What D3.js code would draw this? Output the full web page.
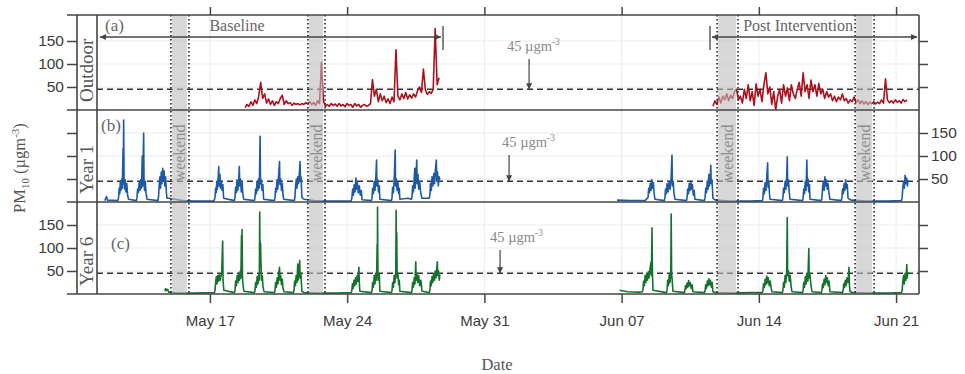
<!DOCTYPE html>
<html>
<head>
<meta charset="utf-8">
<script src="https://cdn.jsdelivr.net/npm/d3@7"></script>
<style>
  body { margin: 0; background: #fff; }
  .serif { font-family: "Liberation Serif", "Times New Roman", serif; }
  .sans { font-family: "Liberation Sans", Arial, sans-serif; }
</style>
</head>
<body>
<div id="chart"></div>
<script>
// Times are fractional days counted from 1 May (so 38 = 7 June).

// Outdoor PM10, sampled every 0.1 day
const sampleStep = 0.1;
const outdoorBaseStart = 18.79;
const outdoorBaseline = [5, 12, 8, 18, 10, 22, 14, 30, 60, 25, 35, 15, 24, 12, 20, 10, 18, 14, 25, 32,
  12, 20, 14, 16, 10, 15, 12, 14, 11, 14, 12, 16, 13, 18, 12, 16, 10, 20, 14, 103,
  20, 8, 12, 8, 14, 10, 13, 8, 14, 9, 12, 7, 14, 10, 12, 6, 14, 9, 12, 6,
  10, 12, 8, 10, 14, 66, 30, 45, 18, 35, 20, 30, 16, 24, 14, 28, 18, 131, 30, 22,
  35, 25, 38, 24, 33, 26, 35, 28, 42, 50, 38, 89, 44, 34, 40, 36, 45, 177, 55, 70];
const outdoorPostStart = 42.66;
const outdoorPost = [8, 20, 12, 28, 15, 30, 22, 35, 20, 32, 25, 40, 45, 22, 30, 15, 45, 25, 55, 20,
  40, 10, 57, 30, 45, 18, 55, 81, 35, 50, 12, 40, 0, 30, 45, 15, 55, 30, 48, 20,
  55, 35, 25, 45, 60, 30, 81, 40, 55, 25, 65, 40, 55, 30, 58, 35, 45, 25, 40, 28,
  35, 20, 30, 18, 28, 22, 35, 20, 25, 15, 22, 18, 28, 16, 22, 14, 20, 13, 18, 12,
  17, 14, 18, 13, 17, 14, 22, 15, 68, 22, 16, 20, 15, 22, 17, 20, 15, 23, 18, 22];

// Classroom PM10, year 1 : [day, value]
const year1 = [
  [11.64,3],[11.72,12],[11.78,4],[12.30,3],
  [12.34,10],[12.37,30],[12.40,18],[12.43,45],[12.46,25],[12.50,50],[12.53,30],[12.57,117],[12.58,40],[12.60,178],[12.62,45],[12.65,28],[12.68,48],[12.72,22],[12.76,40],[12.80,15],[12.85,6],[13.25,3],
  [13.28,10],[13.31,28],[13.35,20],[13.39,42],[13.43,25],[13.47,48],[13.51,30],[13.55,100],[13.57,35],[13.62,150],[13.64,40],[13.67,25],[13.70,45],[13.74,20],[13.79,6],[14.35,3],
  [14.38,12],[14.41,35],[14.45,55],[14.48,30],[14.52,65],[14.55,40],[14.59,73],[14.62,45],[14.66,68],[14.70,35],[14.74,55],[14.78,20],[14.81,8],
  [14.9,8],[15.2,6],[15.6,3],[16.2,2],[17.2,2],
  [17.26,10],[17.29,30],[17.32,20],[17.35,45],[17.38,28],[17.42,52],[17.45,77],[17.47,35],[17.51,60],[17.54,30],[17.58,45],[17.62,25],[17.66,38],[17.70,8],[18.25,3],
  [18.28,10],[18.31,32],[18.35,20],[18.38,48],[18.42,25],[18.46,40],[18.50,77],[18.52,35],[18.56,50],[18.60,22],[18.64,42],[18.68,18],[18.72,6],[19.27,3],
  [19.30,10],[19.33,28],[19.37,18],[19.40,45],[19.44,25],[19.48,50],[19.52,30],[19.56,143],[19.58,40],[19.62,48],[19.66,25],[19.70,38],[19.74,6],[20.29,3],
  [20.32,10],[20.35,30],[20.39,22],[20.42,48],[20.46,28],[20.50,55],[20.55,88],[20.57,38],[20.61,50],[20.65,25],[20.69,40],[20.73,15],[20.76,6],[21.31,3],
  [21.34,12],[21.37,35],[21.41,50],[21.44,30],[21.48,55],[21.52,40],[21.56,62],[21.60,88],[21.62,45],[21.65,55],[21.69,10],
  [21.8,6],[22.3,3],[23.0,2],[24.2,2],
  [24.24,8],[24.28,28],[24.32,15],[24.36,38],[24.40,22],[24.45,52],[24.48,28],[24.52,42],[24.57,20],[24.62,35],[24.67,15],[24.72,25],[24.76,5],[25.24,3],
  [25.27,10],[25.30,30],[25.34,18],[25.38,45],[25.42,25],[25.46,50],[25.50,91],[25.52,35],[25.56,48],[25.60,22],[25.64,35],[25.67,6],[26.26,3],
  [26.29,10],[26.32,32],[26.36,20],[26.40,48],[26.45,113],[26.47,35],[26.51,50],[26.55,25],[26.59,42],[26.63,18],[26.66,30],[26.69,6],[27.1,8],[27.28,6],
  [27.31,12],[27.34,35],[27.38,22],[27.42,50],[27.45,73],[27.47,30],[27.51,55],[27.55,91],[27.57,40],[27.61,60],[27.65,28],[27.70,45],[27.75,20],[27.82,8],[28.18,8],
  [28.22,15],[28.25,40],[28.29,25],[28.33,55],[28.37,35],[28.42,62],[28.46,40],[28.50,70],[28.55,91],[28.57,45],[28.61,65],[28.65,35],[28.69,55],[28.73,48],
  [28.74,null],
  [37.77,4],[38.5,3],[39.2,3],
  [39.35,10],[39.38,30],[39.42,20],[39.46,40],[39.50,25],[39.54,48],[39.58,30],[39.62,42],[39.66,18],[39.70,6],[40.18,3],
  [40.21,10],[40.24,28],[40.28,18],[40.32,40],[40.37,22],[40.42,45],[40.47,28],[40.52,48],[40.57,102],[40.59,35],[40.63,45],[40.67,20],[40.72,6],[41.31,3],
  [41.34,10],[41.37,28],[41.41,18],[41.45,40],[41.49,25],[41.53,45],[41.57,28],[41.61,38],[41.66,15],[41.70,25],[41.74,6],[42.23,3],
  [42.26,10],[42.29,30],[42.33,20],[42.37,45],[42.41,28],[42.45,60],[42.48,35],[42.52,50],[42.55,80],[42.57,40],[42.61,48],[42.66,8],
  [42.8,4],[43.5,2],[44.6,2],[45.18,3],
  [45.21,10],[45.24,30],[45.28,18],[45.32,42],[45.36,25],[45.40,50],[45.45,85],[45.47,32],[45.51,45],[45.54,20],[45.57,6],[46.2,3],
  [46.23,10],[46.26,30],[46.30,20],[46.34,45],[46.38,28],[46.42,55],[46.45,98],[46.47,35],[46.51,48],[46.55,22],[46.59,6],[47.23,3],
  [47.26,10],[47.29,28],[47.33,18],[47.37,45],[47.41,25],[47.45,91],[47.47,35],[47.51,50],[47.55,22],[47.58,38],[47.61,6],[48.19,3],
  [48.22,10],[48.25,30],[48.29,45],[48.33,25],[48.37,55],[48.41,35],[48.45,48],[48.49,28],[48.53,40],[48.58,18],[48.63,6],[49.21,3],
  [49.24,10],[49.27,28],[49.31,18],[49.35,40],[49.39,25],[49.43,48],[49.47,30],[49.51,38],[49.55,8],
  [49.7,4],[50.5,2],[51.6,2],[52.28,3],
  [52.31,10],[52.34,28],[52.38,45],[52.42,30],[52.46,58],[52.50,40],[52.54,52],[52.58,35],[52.61,48]
];

// Classroom PM10, year 6 : [day, value]
const year6 = [
  [14.70,6],[14.74,12],[14.78,8],[14.84,10],[14.9,4],[15.3,2],[16.2,2],[17.23,3],
  [17.26,8],[17.29,25],[17.33,38],[17.36,22],[17.40,40],[17.44,28],[17.48,42],[17.52,30],[17.56,38],[17.60,45],[17.65,115],[17.67,30],[17.71,8],[18.25,3],
  [18.28,8],[18.31,28],[18.35,18],[18.39,40],[18.43,25],[18.47,45],[18.51,30],[18.55,50],[18.58,35],[18.61,127],[18.62,40],[18.64,140],[18.66,35],[18.69,20],[18.73,6],[19.27,3],
  [19.30,8],[19.33,25],[19.37,15],[19.41,38],[19.45,22],[19.49,42],[19.52,30],[19.54,178],[19.56,60],[19.58,112],[19.60,76],[19.63,30],[19.67,40],[19.71,15],[19.76,5],[20.29,3],
  [20.32,8],[20.35,25],[20.39,15],[20.43,35],[20.47,22],[20.51,45],[20.55,58],[20.57,30],[20.61,40],[20.65,20],[20.69,32],[20.73,12],[20.78,5],[21.26,3],
  [21.29,8],[21.32,28],[21.36,18],[21.40,40],[21.44,25],[21.48,65],[21.50,30],[21.54,48],[21.58,73],[21.60,35],[21.64,45],[21.69,6],
  [21.8,3],[22.5,2],[23.5,2],[24.21,3],
  [24.24,8],[24.27,22],[24.31,12],[24.35,30],[24.39,18],[24.43,35],[24.47,22],[24.51,40],[24.55,28],[24.60,58],[24.62,25],[24.65,6],[25.24,3],
  [25.27,8],[25.30,25],[25.34,15],[25.38,40],[25.42,22],[25.46,45],[25.50,30],[25.53,108],[25.54,40],[25.55,189],[25.57,45],[25.60,30],[25.64,42],[25.67,6],[26.26,3],
  [26.29,8],[26.32,25],[26.36,15],[26.40,40],[26.44,25],[26.48,50],[26.50,182],[26.51,60],[26.53,133],[26.55,35],[26.59,45],[26.63,20],[26.66,30],[26.69,6],[27.28,3],
  [27.31,8],[27.34,25],[27.38,15],[27.42,35],[27.46,22],[27.50,70],[27.52,30],[27.56,45],[27.60,25],[27.65,40],[27.70,18],[27.76,30],[27.82,6],[28.19,3],
  [28.22,8],[28.25,28],[28.29,18],[28.33,38],[28.37,25],[28.41,45],[28.45,30],[28.49,50],[28.53,35],[28.57,55],[28.60,70],[28.62,40],[28.66,50],[28.70,30],[28.73,42],
  [28.74,null],
  [37.90,8],[38.3,5],[38.9,4],[39.06,5],
  [39.09,10],[39.12,28],[39.16,18],[39.20,40],[39.24,25],[39.28,45],[39.32,30],[39.36,48],[39.40,35],[39.45,55],[39.50,70],[39.52,40],[39.55,144],[39.57,50],[39.60,8],[40.29,3],
  [40.32,10],[40.35,30],[40.39,18],[40.43,42],[40.47,25],[40.51,50],[40.53,174],[40.55,45],[40.58,30],[40.62,6],[41.20,3],
  [41.23,8],[41.26,18],[41.30,12],[41.34,24],[41.38,15],[41.42,29],[41.46,18],[41.50,25],[41.55,12],[41.60,20],[41.64,5],[42.23,3],
  [42.26,8],[42.29,20],[42.33,12],[42.37,28],[42.41,18],[42.45,33],[42.49,20],[42.53,30],[42.58,15],[42.62,25],[42.66,5],
  [42.8,3],[43.5,2],[44.6,3],[45.18,3],
  [45.21,8],[45.24,22],[45.28,14],[45.32,32],[45.36,20],[45.40,39],[45.44,24],[45.48,35],[45.53,18],[45.58,28],[45.63,12],[45.67,5],[46.20,3],
  [46.23,8],[46.26,25],[46.30,15],[46.34,40],[46.38,25],[46.42,48],[46.45,166],[46.47,40],[46.51,50],[46.55,28],[46.60,40],[46.65,15],[46.69,5],[47.23,3],
  [47.26,8],[47.29,25],[47.33,15],[47.37,38],[47.41,22],[47.45,45],[47.50,28],[47.55,99],[47.57,35],[47.61,42],[47.66,18],[47.71,5],[48.19,3],
  [48.22,8],[48.25,22],[48.29,14],[48.33,32],[48.37,20],[48.41,40],[48.45,25],[48.49,35],[48.54,18],[48.58,28],[48.63,5],[49.27,3],
  [49.30,8],[49.33,22],[49.37,14],[49.41,30],[49.45,18],[49.50,35],[49.55,25],[49.60,58],[49.62,20],[49.65,5],
  [49.8,3],[50.6,2],[51.7,2],[52.28,3],
  [52.31,8],[52.34,25],[52.38,40],[52.42,22],[52.46,45],[52.50,30],[52.55,64],[52.57,35],[52.61,48]
];

const weekends = [[15.01, 15.93], [22.0, 22.87], [42.87, 43.94], [49.91, 50.88]];
const dateTicks = [17, 24, 31, 38, 45, 52];
const yTicks = [50, 100, 150];
const threshold = 45;
// study periods: [label, label day, arrow start, arrow end, day of the end bar]
const periods = [
  ["Baseline", 18.38, 11.39, 28.89, 28.89],
  ["Post Intervention", 47.0, 42.51, 53.07, 42.51]
];

const toDate = d => new Date(Date.UTC(2015, 4, 1) + (d - 1) * 864e5);

const outdoor = [
  ...outdoorBaseline.map((v, i) => [outdoorBaseStart + i * sampleStep, v]),
  [outdoorBaseStart + outdoorBaseline.length * sampleStep, null],
  ...outdoorPost.map((v, i) => [outdoorPostStart + i * sampleStep, v])
];

const width = 965, height = 374;
const left = 97, right = 919, stripLeft = 77, tickLeft = 67;

const panels = [
  { name: "Outdoor", tag: "(a)", top: 15, bottom: 110, data: outdoor, color: "#ad0f1c",
    leftLabels: true, rightLabels: false, tagX: 105, tagDy: 16, noteDay: 32.15, arrowDay: 33.28, noteDy: 36 },
  { name: "Year 1", tag: "(b)", top: 110, bottom: 202, data: year1, color: "#1d59a4",
    leftLabels: false, rightLabels: true, tagX: 101, tagDy: 21, noteDay: 31.9, arrowDay: 32.26, noteDy: 37 },
  { name: "Year 6", tag: "(c)", top: 202, bottom: 294, data: year6, color: "#15722c",
    leftLabels: true, rightLabels: false, tagX: 111, tagDy: 47, noteDay: 31.29, arrowDay: 31.8, noteDy: 40 }
];

const svg = d3.select("#chart").append("svg")
  .attr("width", width)
  .attr("height", height);

const x = d3.scaleUtc()
  .domain([toDate(11.24), toDate(53.17)])
  .range([left, right]);

const defs = svg.append("defs");
defs.append("marker")
  .attr("id", "head")
  .attr("viewBox", "0 0 10 10")
  .attr("refX", 10).attr("refY", 5)
  .attr("markerWidth", 7).attr("markerHeight", 6)
  .attr("markerUnits", "userSpaceOnUse")
  .attr("orient", "auto-start-reverse")
  .append("path")
  .attr("d", "M0,0 L10,5 L0,10 z")
  .attr("fill", "#444");

panels.forEach((p, i) => {
  const y = d3.scaleLinear().domain([0, 200]).range([p.bottom, p.bottom - 92]);
  const g = svg.append("g");

  defs.append("clipPath").attr("id", "clip" + i)
    .append("rect")
    .attr("x", left).attr("y", p.top)
    .attr("width", right - left).attr("height", p.bottom - p.top);

  // grid
  g.selectAll(".hgrid").data(yTicks).join("line")
    .attr("x1", left).attr("x2", right)
    .attr("y1", d => y(d)).attr("y2", d => y(d))
    .attr("stroke", "#ebebeb").attr("stroke-width", 1);
  g.selectAll(".vgrid").data(dateTicks).join("line")
    .attr("x1", d => x(toDate(d))).attr("x2", d => x(toDate(d)))
    .attr("y1", p.top).attr("y2", p.bottom)
    .attr("stroke", "#ebebeb").attr("stroke-width", 1);

  // threshold
  g.append("line")
    .attr("x1", left).attr("x2", right)
    .attr("y1", y(threshold)).attr("y2", y(threshold))
    .attr("stroke", "#333").attr("stroke-width", 1.5)
    .attr("stroke-dasharray", "6,4");

  // series
  const line = d3.line()
    .defined(d => d[1] != null)
    .x(d => x(toDate(d[0])))
    .y(d => y(d[1]));
  g.append("path")
    .datum(p.data)
    .attr("clip-path", `url(#clip${i})`)
    .attr("fill", "none")
    .attr("stroke", p.color)
    .attr("stroke-width", 1.6)
    .attr("stroke-linejoin", "round")
    .attr("d", line);

  // weekend shading on top (semi transparent)
  g.selectAll(".wk").data(weekends).join("rect")
    .attr("x", d => x(toDate(d[0])) + 1)
    .attr("width", d => x(toDate(d[1])) - x(toDate(d[0])) - 3)
    .attr("y", p.top).attr("height", p.bottom - p.top)
    .attr("fill", "#bcbcbc").attr("fill-opacity", 0.6);

  // 45 ugm-3 note
  const note = g.append("text").attr("class", "serif")
    .attr("x", x(toDate(p.noteDay))).attr("y", p.top + p.noteDy)
    .attr("font-size", 14.5).attr("fill", "#8a8a8a");
  note.append("tspan").text("45 µgm");
  note.append("tspan").attr("dy", -6).attr("font-size", 9.5).text("-3");
  g.append("line")
    .attr("x1", x(toDate(p.arrowDay))).attr("x2", x(toDate(p.arrowDay)))
    .attr("y1", p.top + p.noteDy + 8).attr("y2", y(threshold))
    .attr("stroke", "#444").attr("stroke-width", 1.2)
    .attr("marker-end", "url(#head)");

  // panel tag
  g.append("text").attr("class", "serif")
    .attr("x", p.tagX).attr("y", p.top + p.tagDy)
    .attr("font-size", 17).attr("fill", "#666")
    .text(p.tag);

  // strip label
  g.append("text").attr("class", "serif")
    .attr("transform", `translate(${left - 4},${p.bottom - 8}) rotate(-90)`)
    .attr("font-size", 19).attr("fill", "#555")
    .text(p.name);

  // left axis
  const yl = g.append("g").attr("transform", `translate(${stripLeft},0)`)
    .call(d3.axisLeft(y).tickValues(yTicks).tickSize(10)
      .tickFormat(p.leftLabels ? d3.format("d") : () => ""));
  // right axis
  const yr = g.append("g").attr("transform", `translate(${right},0)`)
    .call(d3.axisRight(y).tickValues(yTicks).tickSize(9)
      .tickFormat(p.rightLabels ? d3.format("d") : () => ""));
  [yl, yr].forEach(a => {
    a.select(".domain").remove();
    a.selectAll(".tick line").attr("stroke", "#444").attr("stroke-width", 1.5);
    a.selectAll(".tick text").attr("class", "sans")
      .attr("font-size", 15.5).attr("fill", "#3a3a3a");
  });
});

// weekend dotted boundaries across all panels
const dots = svg.append("g");
weekends.forEach(w => {
  w.forEach(d => {
    dots.append("line")
      .attr("x1", x(toDate(d))).attr("x2", x(toDate(d)))
      .attr("y1", 15).attr("y2", 294)
      .attr("stroke", "#222").attr("stroke-width", 1.6)
      .attr("stroke-dasharray", "1.6,2.4");
  });
  // label in panel b
  const cx = (x(toDate(w[0])) + x(toDate(w[1]))) / 2;
  dots.append("text").attr("class", "serif")
    .attr("transform", `translate(${cx},153) rotate(-90)`)
    .attr("text-anchor", "middle")
    .attr("dominant-baseline", "central")
    .attr("font-size", 16).attr("fill", "#8c8c8c")
    .text("weekend");
});

// frame
const frame = svg.append("g").attr("stroke", "#444").attr("stroke-width", 1.6);
[15, 110, 202, 294].forEach(yy => {
  frame.append("line").attr("x1", tickLeft).attr("x2", right).attr("y1", yy).attr("y2", yy);
});
[stripLeft, left, right].forEach(xx => {
  frame.append("line").attr("x1", xx).attr("x2", xx).attr("y1", 15).attr("y2", 294);
});

// date axis at the bottom and ticks on top
const xb = svg.append("g").attr("transform", "translate(0,294)")
  .call(d3.axisBottom(x).tickValues(dateTicks.map(toDate)).tickSize(9).tickPadding(12)
    .tickFormat(d3.utcFormat("%b %d")));
const xt = svg.append("g").attr("transform", "translate(0,15)")
  .call(d3.axisTop(x).tickValues(dateTicks.map(toDate)).tickSize(8).tickFormat(() => ""));
[xb, xt].forEach(a => {
  a.select(".domain").remove();
  a.selectAll(".tick line").attr("stroke", "#444").attr("stroke-width", 1.5);
  a.selectAll(".tick text").attr("class", "sans")
    .attr("font-size", 15).attr("fill", "#3a3a3a");
});

// study period arrows
periods.forEach(([label, labelDay, start, end, bar]) => {
  svg.append("text").attr("class", "serif")
    .attr("x", x(toDate(labelDay))).attr("y", 31)
    .attr("text-anchor", "middle")
    .attr("font-size", 16).attr("fill", "#666")
    .text(label);
  svg.append("line")
    .attr("x1", x(toDate(start)) + (bar === start ? 2 : 0)).attr("x2", x(toDate(end)) - (bar === end ? 2 : 0))
    .attr("y1", 37).attr("y2", 37)
    .attr("stroke", "#444").attr("stroke-width", 1.3)
    .attr("marker-start", "url(#head)")
    .attr("marker-end", "url(#head)");
  svg.append("line")
    .attr("x1", x(toDate(bar))).attr("x2", x(toDate(bar)))
    .attr("y1", 26).attr("y2", 50)
    .attr("stroke", "#444").attr("stroke-width", 1.3);
});

// axis titles
const yTitle = svg.append("text").attr("class", "serif")
  .attr("transform", "translate(25,168) rotate(-90)")
  .attr("text-anchor", "middle")
  .attr("font-size", 16.5).attr("fill", "#555");
yTitle.append("tspan").text("PM");
yTitle.append("tspan").attr("dy", 4).attr("font-size", 11).text("10");
yTitle.append("tspan").attr("dy", -4).text(" (µgm");
yTitle.append("tspan").attr("dy", -6).attr("font-size", 11).text("-3");
yTitle.append("tspan").attr("dy", 6).text(")");

svg.append("text").attr("class", "serif")
  .attr("x", 497).attr("y", 370)
  .attr("text-anchor", "middle")
  .attr("font-size", 16.5).attr("fill", "#555")
  .text("Date");
</script>
</body>
</html>
